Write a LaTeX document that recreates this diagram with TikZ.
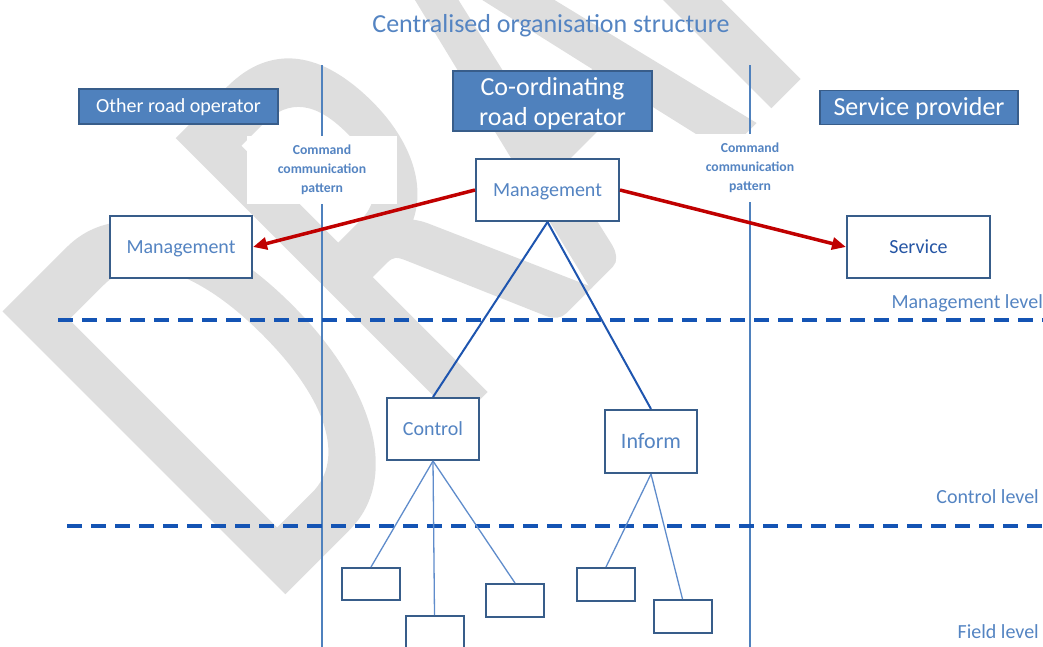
\documentclass[tikz,border=0pt]{standalone}
\usepackage{fontspec}
\setmainfont{Carlito}
\newfontfamily\markfont[FakeBold=1.5]{Carlito}
\usepackage{graphicx}
\usetikzlibrary{arrows.meta}

\definecolor{accent}{RGB}{79,129,189}
\definecolor{edge}{RGB}{56,93,138}
\definecolor{lighttxt}{RGB}{84,132,194}
\definecolor{darktxt}{RGB}{38,86,165}
\definecolor{levelline}{RGB}{20,84,180}
\definecolor{treeline}{RGB}{30,85,175}
\definecolor{leafline}{RGB}{95,140,203}
\definecolor{cmdred}{RGB}{192,0,0}
\definecolor{mark}{RGB}{222,222,222}

\tikzset{
  % centre a single line on its capital height
  capcentre/.style={text height=#1, text depth=0pt},
  header/.style={draw=edge, line width=1.6pt, fill=accent, text=white,
    inner sep=0pt, font=\fontsize{26}{30}\selectfont},
  headertext/.style={inner sep=0pt, text=white, align=center,
    font=\fontsize{26}{30}\selectfont},
  unit/.style={draw=edge, line width=2pt, fill=white, inner sep=0pt,
    text=lighttxt, capcentre=12.9pt, font=\fontsize{20}{24}\selectfont},
  leaf/.style={draw=edge, line width=2pt, fill=white, inner sep=0pt,
    minimum width=58pt, minimum height=32pt},
  cmdlabel/.style={fill=white, inner sep=0pt, text width=150pt, minimum height=68pt,
    align=center, text=lighttxt, font=\bfseries\fontsize{13.7}{19}\selectfont},
  levellabel/.style={anchor=east, text=lighttxt, inner sep=0pt, capcentre=12.9pt,
    font=\fontsize{20}{24}\selectfont},
  lane/.style={draw=accent, line width=2.5pt},
  level/.style={draw=levelline, line width=3.5pt, dash pattern=on 15pt off 9pt},
  command/.style={draw=cmdred, line width=3.5pt, -{Triangle[length=14pt,width=12pt]}},
  branch/.style={draw=treeline, line width=2pt},
  twig/.style={draw=leafline, line width=1.3pt}
}

\begin{document}
\begin{tikzpicture}[x=1pt,y=-1pt]
\useasboundingbox (0,0) rectangle (1043,646);

% watermark
\node[anchor=base west, rotate=45, inner sep=0pt, text=mark,
  font=\markfont\fontsize{609}{609}\selectfont] (draftmark) at (265,608) {\scalebox{0.65}[1]{DRAFT}};

% title
\node[text=lighttxt, font=\fontsize{26}{30}\selectfont, inner sep=0pt, capcentre=16.7pt] (title) at (551,24) {Centralised organisation structure};

% swim-lane separators
\coordinate (laneAtop) at (322,65);
\coordinate (laneAbot) at (322,650);
\coordinate (laneBtop) at (750,65);
\coordinate (laneBbot) at (750,650);
\draw[lane] (laneAtop) -- (laneAbot);
\draw[lane] (laneBtop) -- (laneBbot);

\node[cmdlabel] (cmdA) at (322,170) {Command\\communication\\pattern};
\node[cmdlabel] (cmdB) at (750,168) {Command\\communication\\pattern};

% level separators
\coordinate (mlA) at (58,320);
\coordinate (mlB) at (1046,320);
\coordinate (clA) at (67,526);
\coordinate (clB) at (1046,526);
\draw[level] (mlA) -- (mlB);
\draw[level] (clA) -- (clB);

\node[levellabel] (mlevel) at (1043,302) {Management level};
\node[levellabel] (clevel) at (1039,497) {Control level};
\node[levellabel] (flevel) at (1039,632.5) {Field level};

% organisations
\node[header, capcentre=12.9pt, minimum width=199pt, minimum height=35pt, font=\fontsize{20}{24}\selectfont] (other) at (178.5,106.5) {Other road operator};
\node[header, minimum width=199pt, minimum height=60pt] (coord) at (552.5,101) {};
\node[headertext] (coordtext) at (552.5,104) {Co-ordinating\\road operator};
\node[header, capcentre=16.7pt, minimum width=198pt, minimum height=34pt] (provider) at (919,107.5) {Service provider};

% management level
\node[unit, minimum width=143pt, minimum height=62pt] (mgmt) at (547.5,190) {Management};
\node[unit, minimum width=142pt, minimum height=62pt] (omgmt) at (181,247) {Management};
\node[unit, minimum width=143pt, minimum height=62pt, text=darktxt] (service) at (918.5,247) {Service};

% control level
\node[unit, minimum width=92pt, minimum height=62pt] (control) at (433,429) {Control};
\node[unit, minimum width=92pt, minimum height=63pt, capcentre=14.2pt, font=\fontsize{22}{26}\selectfont] (inform) at (651,441.5) {Inform};

% field level
\node[leaf] (f1) at (371,584) {};
\node[leaf] (f2) at (434.5,632) {};
\node[leaf, minimum height=33pt] (f3) at (515,600.5) {};
\node[leaf, minimum height=33pt] (f4) at (606,584.5) {};
\node[leaf, minimum height=33pt] (f5) at (682.5,616.5) {};

% connectors
\draw[command] (mgmt.west) -- (omgmt.east);
\draw[command] (mgmt.east) -- (service.west);
\draw[branch] (mgmt.south) -- (control.north);
\draw[branch] (mgmt.south) -- (inform.north);
\draw[twig] (control.south) -- (f1.north);
\draw[twig] (control.south) -- (f2.north);
\draw[twig] (control.south) -- (f3.north);
\draw[twig] (inform.south) -- (f4.north);
\draw[twig] (inform.south) -- (f5.north);
\end{tikzpicture}
\end{document}
